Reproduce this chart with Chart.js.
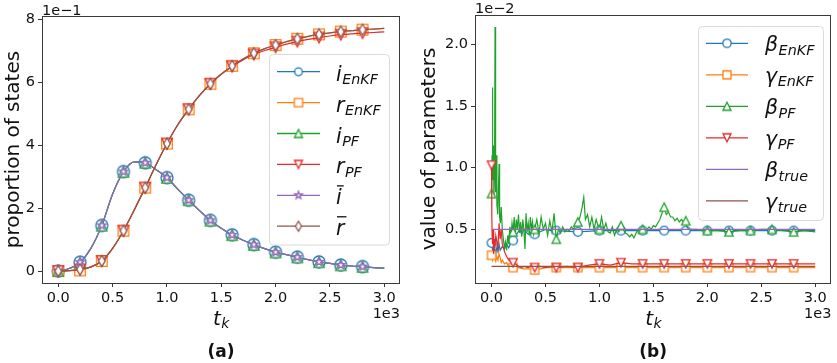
<!DOCTYPE html>
<html>
<head>
<meta charset="utf-8">
<script src="https://cdn.jsdelivr.net/npm/chart.js@4.4.1/dist/chart.umd.min.js"></script>
<style>
  html, body { margin: 0; padding: 0; background: #fff; }
  #wrap { position: relative; width: 837px; height: 363px; }
  canvas { position: absolute; top: 0; }
  #chartA { left: 0; }
  #chartB { left: 418px; }
</style>
</head>
<body>
<div id="wrap">
  <canvas id="chartA" width="418" height="363"></canvas>
  <canvas id="chartB" width="419" height="363"></canvas>
</div>
<script>
// ---- (a) proportion of states, values in units of 1e-1 ----
const tStates = [0, 100, 200, 300, 400, 500, 600, 700, 800, 900, 1000, 1100, 1200, 1300, 1400, 1500,
                 1600, 1700, 1800, 1900, 2000, 2100, 2200, 2300, 2400, 2500, 2600, 2700, 2800, 2900, 3000];
const iEnKF = [0.00, 0.08, 0.28, 0.72, 1.45, 2.45, 3.16, 3.47, 3.44, 3.22, 2.97, 2.60, 2.25, 1.92, 1.61, 1.36,
               1.15, 0.98, 0.84, 0.71, 0.60, 0.52, 0.44, 0.36, 0.29, 0.24, 0.19, 0.16, 0.14, 0.11, 0.09];
const rEnKF = [0.00, 0.01, 0.02, 0.13, 0.32, 0.72, 1.28, 1.95, 2.65, 3.38, 4.05, 4.65, 5.14, 5.58, 5.95, 6.26,
               6.52, 6.74, 6.92, 7.07, 7.18, 7.29, 7.38, 7.46, 7.52, 7.57, 7.61, 7.64, 7.67, 7.69, 7.71];
const iPF = [0.00, 0.08, 0.26, 0.72, 1.44, 2.45, 3.15, 3.47, 3.44, 3.22, 2.96, 2.60, 2.25, 1.92, 1.60, 1.36,
             1.14, 0.98, 0.83, 0.71, 0.59, 0.52, 0.43, 0.36, 0.28, 0.24, 0.18, 0.16, 0.13, 0.11, 0.09];
const rPF = [0.00, 0.01, 0.05, 0.13, 0.32, 0.72, 1.28, 1.95, 2.65, 3.38, 4.05, 4.65, 5.14, 5.58, 5.95, 6.25,
             6.50, 6.71, 6.88, 7.01, 7.11, 7.21, 7.29, 7.36, 7.42, 7.47, 7.51, 7.54, 7.56, 7.58, 7.60];
const iBar = [0.00, 0.08, 0.28, 0.72, 1.45, 2.45, 3.16, 3.47, 3.44, 3.22, 2.97, 2.60, 2.25, 1.92, 1.61, 1.36,
              1.15, 0.98, 0.84, 0.71, 0.60, 0.52, 0.44, 0.36, 0.29, 0.24, 0.19, 0.16, 0.14, 0.11, 0.09];
const rBar = [0.00, 0.01, 0.05, 0.13, 0.32, 0.72, 1.28, 1.95, 2.65, 3.38, 4.05, 4.65, 5.14, 5.58, 5.95, 6.26,
              6.52, 6.74, 6.92, 7.07, 7.18, 7.29, 7.38, 7.46, 7.52, 7.57, 7.61, 7.64, 7.67, 7.69, 7.71];

// ---- (b) value of parameters, values in units of 1e-2 ----
const tBetaEnKF = [0, 10, 20, 30, 40, 50, 60, 70, 80,
                   100, 120, 140, 160, 180, 200, 220, 240, 260, 280, 300, 320, 340, 360, 380, 400,
                   450, 500, 550, 600,
                   800, 1000, 1200, 1400, 1600, 1800, 2000, 2200, 2400, 2600, 2800, 3000];
const betaEnKF = [0.39, 0.33, 0.28, 0.35, 0.30, 0.36, 0.32, 0.38, 0.33,
                  0.36, 0.34, 0.38, 0.35, 0.40, 0.41, 0.45, 0.47, 0.50, 0.46, 0.50, 0.48, 0.46, 0.47, 0.48, 0.46,
                  0.48, 0.50, 0.49, 0.49,
                  0.48, 0.49, 0.49, 0.49, 0.49, 0.49, 0.49, 0.49, 0.49, 0.49, 0.49, 0.49];

const tGammaEnKF = [0, 10, 20, 30, 40, 50, 60, 70, 80, 90, 100,
                    120, 140, 160, 180, 200,
                    250, 300, 350, 400, 450, 500, 600,
                    800, 1000, 1200, 1400, 1600, 1800, 2000, 2200, 2400, 2600, 2800, 3000];
const gammaEnKF = [0.29, 0.25, 0.30, 0.27, 0.24, 0.28, 0.25, 0.30, 0.27, 0.23, 0.25,
                   0.22, 0.23, 0.20, 0.21, 0.19,
                   0.19, 0.18, 0.18, 0.17, 0.18, 0.19, 0.19,
                   0.19, 0.19, 0.19, 0.19, 0.19, 0.19, 0.19, 0.19, 0.19, 0.19, 0.19, 0.19];

const tBetaPF = [0, 5, 9, 12, 18, 22, 28, 33, 38, 45, 50, 58, 65, 70, 75, 82, 90,
                 100, 110, 120, 130, 140, 150, 160, 170, 180, 190,
                 200, 210, 220, 230, 240, 250, 260, 270, 280, 290,
                 300, 310, 320, 330, 340, 350, 360, 370, 380, 390,
                 400, 420, 440, 460, 480, 500, 520, 540, 560, 580,
                 600, 620, 640, 660, 680, 700, 720, 740, 760, 780,
                 800, 820, 840, 855, 870, 890, 910, 930, 950, 970, 990,
                 1000, 1020, 1040, 1060, 1080, 1100, 1120, 1140, 1160, 1180,
                 1200, 1220, 1240, 1260, 1280, 1300, 1320, 1340, 1360, 1380,
                 1400, 1420, 1440, 1460, 1480, 1500, 1520, 1540, 1560, 1580,
                 1600, 1620, 1640, 1660, 1680, 1700, 1720, 1740, 1760, 1780,
                 1800, 1810, 1830, 1860, 1900, 1950,
                 2000, 2100, 2200, 2300, 2400, 2500, 2600, 2700, 2800, 2900, 3000];
const betaPF = [0.79, 1.10, 1.65, 0.90, 1.18, 0.75, 0.95, 2.14, 0.80, 1.10, 0.70, 0.62, 0.85, 1.03, 0.60, 0.55, 0.68,
                0.50, 0.42, 0.35, 0.40, 0.33, 0.45, 0.38, 0.52, 0.44, 0.55,
                0.48, 0.60, 0.45, 0.58, 0.50, 0.62, 0.47, 0.56, 0.44, 0.58,
                0.50, 0.34, 0.63, 0.48, 0.55, 0.45, 0.60, 0.50, 0.56, 0.46,
                0.50, 0.58, 0.47, 0.60, 0.50, 0.55, 0.45, 0.57, 0.48, 0.63,
                0.42, 0.50, 0.47, 0.52, 0.48, 0.50, 0.49, 0.52, 0.50, 0.55,
                0.56, 0.60, 0.68, 0.76, 0.58, 0.62, 0.52, 0.60, 0.50, 0.58, 0.52,
                0.50, 0.60, 0.50, 0.55, 0.48, 0.47, 0.52, 0.45, 0.50, 0.48,
                0.53, 0.50, 0.47, 0.46, 0.44, 0.46, 0.43, 0.47, 0.50, 0.48,
                0.50, 0.49, 0.50, 0.52, 0.50, 0.53, 0.52, 0.55, 0.58, 0.63,
                0.68, 0.62, 0.64, 0.60, 0.60, 0.57, 0.59, 0.56, 0.58, 0.56,
                0.57, 0.52, 0.50, 0.50, 0.50, 0.49,
                0.49, 0.49, 0.48, 0.49, 0.49, 0.50, 0.50, 0.49, 0.48, 0.49, 0.48];

const tGammaPF = [0, 3, 6, 10, 15, 20, 25, 30,
                  40, 50, 60, 70, 80, 90, 100,
                  120, 140, 160, 180, 200,
                  220, 250, 280, 300, 340, 380, 400,
                  450, 500, 550, 600,
                  700, 800, 900, 1000, 1100, 1200, 1300, 1400,
                  1600, 1800, 2000, 2200, 2400, 2600, 2800, 3000];
const gammaPF = [1.02, 0.60, 0.45, 0.38, 0.50, 0.30, 0.42, 0.35,
                 0.45, 0.40, 0.35, 0.55, 0.42, 0.50, 0.38,
                 0.32, 0.28, 0.25, 0.24, 0.23,
                 0.22, 0.20, 0.19, 0.20, 0.19, 0.21, 0.19,
                 0.20, 0.19, 0.20, 0.19,
                 0.20, 0.19, 0.21, 0.22, 0.21, 0.23, 0.22, 0.22,
                 0.22, 0.22, 0.22, 0.22, 0.22, 0.22, 0.22, 0.22];

const tTrue = [0, 3000];
const betaTrue = [0.5, 0.5];
const gammaTrue = [0.2, 0.2];

// tick labels
const timeTicks = [0, 500, 1000, 1500, 2000, 2500, 3000];
const stateTicks = [0, 2, 4, 6, 8];
const paramTicks = [0.5, 1.0, 1.5, 2.0];

const FONT = '"DejaVu Sans", sans-serif';
const COL = {
  blue: '#1f77b4', orange: '#ff7f0e', green: '#1fa22a',
  red: '#e8282a', purple: '#9467bd', brown: '#8c564b'
};

function markerCanvas(kind, r, color) {
  const lw = 1.3;
  const s = 2 * Math.ceil(r + lw + 1);
  const c = document.createElement('canvas');
  c.width = c.height = s;
  const g = c.getContext('2d');
  g.translate(s / 2, s / 2);
  g.beginPath();
  if (kind === 'circle') {
    g.arc(0, 0, r, 0, Math.PI * 2);
  } else if (kind === 'square') {
    g.rect(-r, -r, 2 * r, 2 * r);
  } else if (kind === 'triUp') {
    g.moveTo(0, -r); g.lineTo(-r, r); g.lineTo(r, r); g.closePath();
  } else if (kind === 'triDown') {
    g.moveTo(0, r); g.lineTo(-r, -r); g.lineTo(r, -r); g.closePath();
  } else if (kind === 'star') {
    for (let k = 0; k < 10; k++) {
      const rr = k % 2 ? r * 0.382 : r;
      const ang = -Math.PI / 2 + k * Math.PI / 5;
      g.lineTo(rr * Math.cos(ang), rr * Math.sin(ang));
    }
    g.closePath();
  } else if (kind === 'diamond') {
    g.moveTo(0, -r); g.lineTo(r * 0.6, 0); g.lineTo(0, r); g.lineTo(-r * 0.6, 0); g.closePath();
  }
  g.fillStyle = '#fff';
  g.fill();
  g.lineWidth = lw;
  g.strokeStyle = color;
  g.stroke();
  return c;
}

function isMark(t) {
  return t % 200 === 0 && t <= 2800;
}

function series(label, ts, vs, color, marker, idx, smooth) {
  const ds = {
    label: label,
    data: ts.map((t, k) => ({ x: t, y: vs[k] })),
    borderColor: color,
    borderWidth: 1.2,
    pointRadius: 0,
    pointHoverRadius: 0,
    fill: false,
    order: 10 - idx
  };
  if (smooth) ds.cubicInterpolationMode = 'monotone';
  if (marker) {
    ds.pointStyle = markerCanvas(marker.kind, marker.r, color);
    ds.pointRadius = c => (c.raw && isMark(c.raw.x)) ? marker.r : 0;
  }
  return ds;
}

function drawMath(ctx, x, y, item, size) {
  ctx.fillStyle = '#111';
  ctx.textAlign = 'left';
  ctx.textBaseline = 'alphabetic';
  ctx.font = 'italic ' + size + 'px ' + FONT;
  ctx.fillText(item.main, x, y);
  const w = ctx.measureText(item.main).width;
  if (item.bar) {
    ctx.fillRect(x + 1, y - size * 0.93, w + 1, 1.3);
  }
  if (item.sub) {
    ctx.font = 'italic ' + (size * 0.7) + 'px ' + FONT;
    ctx.fillText(item.sub, x + w + 0.5, y + size * 0.16);
  }
}

function overlay(cfg) {
  return {
    id: 'overlay',
    afterDraw(chart) {
      const ctx = chart.ctx;
      const a = chart.chartArea;
      ctx.save();
      // frame
      ctx.strokeStyle = '#3a3a3a';
      ctx.lineWidth = 1;
      ctx.strokeRect(Math.round(a.left) + 0.5, Math.round(a.top) + 0.5,
                     Math.round(a.right - a.left) - 1, Math.round(a.bottom - a.top));
      const cx = (a.left + a.right) / 2;
      // offset texts
      ctx.fillStyle = '#111';
      ctx.font = '14.5px ' + FONT;
      ctx.textAlign = 'left';
      ctx.textBaseline = 'alphabetic';
      ctx.fillText(cfg.yOffset, a.left, cfg.yOffsetBase);
      ctx.textAlign = 'right';
      ctx.fillText('1e3', a.right, 318);
      // x label t_k
      ctx.font = 'italic 20px ' + FONT;
      const tw = ctx.measureText('t').width;
      ctx.font = 'italic 14px ' + FONT;
      const kw = ctx.measureText('k').width;
      drawMath(ctx, cx - (tw + kw) / 2, 325, { main: 't', sub: 'k' }, 20);
      // panel tag
      ctx.font = 'bold 17px ' + FONT;
      ctx.textAlign = 'center';
      ctx.fillText(cfg.tag, cx, 357);
      // y label
      ctx.save();
      ctx.translate(cfg.yLabelX, (a.top + a.bottom) / 2);
      ctx.rotate(-Math.PI / 2);
      ctx.font = '20px ' + FONT;
      ctx.textAlign = 'center';
      ctx.textBaseline = 'middle';
      ctx.fillText(cfg.yLabel, 0, 0);
      ctx.restore();
      // legend
      const L = cfg.legend;
      ctx.beginPath();
      ctx.roundRect(L.box[0], L.box[1], L.box[2], L.box[3], 4);
      ctx.fillStyle = 'rgba(255,255,255,0.85)';
      ctx.fill();
      ctx.strokeStyle = '#dadada';
      ctx.lineWidth = 1;
      ctx.stroke();
      L.items.forEach((it, k) => {
        const y = L.y0 + k * L.dy;
        ctx.strokeStyle = it.color;
        ctx.lineWidth = 1.3;
        ctx.beginPath();
        ctx.moveTo(L.x1, y);
        ctx.lineTo(L.x2, y);
        ctx.stroke();
        if (it.marker) {
          const m = markerCanvas(it.marker.kind, it.marker.r, it.color);
          ctx.drawImage(m, (L.x1 + L.x2) / 2 - m.width / 2, y - m.height / 2);
        }
        drawMath(ctx, L.tx, y + L.base, it, L.size);
      });
      ctx.restore();
    }
  };
}

function makeChart(id, datasets, opt) {
  const tickFont = { family: 'DejaVu Sans', size: 14.5 };
  return new Chart(document.getElementById(id), {
    type: 'line',
    data: { datasets: datasets },
    options: {
      responsive: false,
      animation: false,
      events: [],
      layout: { padding: opt.padding },
      plugins: { legend: { display: false }, tooltip: { enabled: false } },
      scales: {
        x: {
          type: 'linear',
          min: opt.xMin, max: opt.xMax,
          afterBuildTicks: s => { s.ticks = timeTicks.map(v => ({ value: v })); },
          afterFit: s => { s.height = 80; },
          border: { display: false },
          grid: { drawOnChartArea: false, tickLength: 4, color: '#333', tickWidth: 1 },
          ticks: { font: tickFont, color: '#111', padding: 3, maxRotation: 0, autoSkip: false,
                   callback: v => (v / 1000).toFixed(1) }
        },
        y: {
          type: 'linear',
          min: opt.yMin, max: opt.yMax,
          afterBuildTicks: s => { s.ticks = opt.yTicks.map(v => ({ value: v })); },
          afterFit: s => { s.width = opt.yWidth; },
          border: { display: false },
          grid: { drawOnChartArea: false, tickLength: 4, color: '#333', tickWidth: 1 },
          ticks: { font: tickFont, color: '#111', padding: 3, autoSkip: false,
                   callback: opt.yFormat }
        }
      }
    },
    plugins: [overlay(opt.overlay)]
  });
}

// ---- chart (a) ----
const mA = {
  circle: { kind: 'circle', r: 6 }, square: { kind: 'square', r: 5.3 },
  up: { kind: 'triUp', r: 5.2 }, down: { kind: 'triDown', r: 5.2 },
  star: { kind: 'star', r: 4.6 }, diamond: { kind: 'diamond', r: 5.5 }
};
makeChart('chartA', [
  series('i_EnKF', tStates, iEnKF, COL.blue, mA.circle, 0, true),
  series('r_EnKF', tStates, rEnKF, COL.orange, mA.square, 1, true),
  series('i_PF', tStates, iPF, COL.green, mA.up, 2, true),
  series('r_PF', tStates, rPF, COL.red, mA.down, 3, true),
  series('i_bar', tStates, iBar, COL.purple, mA.star, 4, true),
  series('r_bar', tStates, rBar, COL.brown, mA.diamond, 5, true)
], {
  padding: { top: 16, right: 18, left: 0, bottom: 0 },
  xMin: -150, xMax: 3145, yMin: -0.381, yMax: 8.105, yWidth: 42,
  yTicks: stateTicks, yFormat: v => v.toFixed(0),
  overlay: {
    yOffset: '1e\u22121', yOffsetBase: 15, tag: '(a)', yLabel: 'proportion of states', yLabelX: 13.5,
    legend: {
      box: [269.5, 54.5, 120, 190.5], y0: 71.7, dy: 30.9, x1: 277, x2: 320, tx: 336, base: 9, size: 20.5,
      items: [
        { color: COL.blue, marker: { kind: 'circle', r: 3.8 }, main: 'i', sub: 'EnKF' },
        { color: COL.orange, marker: { kind: 'square', r: 4.2 }, main: 'r', sub: 'EnKF' },
        { color: COL.green, marker: { kind: 'triUp', r: 4 }, main: 'i', sub: 'PF' },
        { color: COL.red, marker: { kind: 'triDown', r: 4 }, main: 'r', sub: 'PF' },
        { color: COL.purple, marker: { kind: 'star', r: 4 }, main: 'i', bar: true },
        { color: COL.brown, marker: { kind: 'diamond', r: 5 }, main: 'r', bar: true }
      ]
    }
  }
});

// ---- chart (b) ----
const mB = {
  circle: { kind: 'circle', r: 4.4 }, square: { kind: 'square', r: 4.1 },
  up: { kind: 'triUp', r: 4.2 }, down: { kind: 'triDown', r: 4.2 }
};
makeChart('chartB', [
  series('beta_EnKF', tBetaEnKF, betaEnKF, COL.blue, mB.circle, 0, false),
  series('gamma_EnKF', tGammaEnKF, gammaEnKF, COL.orange, mB.square, 1, false),
  series('beta_PF', tBetaPF, betaPF, COL.green, mB.up, 2, false),
  series('gamma_PF', tGammaPF, gammaPF, COL.red, mB.down, 3, false),
  series('beta_true', tTrue, betaTrue, COL.purple, null, 4, false),
  series('gamma_true', tTrue, gammaTrue, COL.brown, null, 5, false)
], {
  padding: { top: 15, right: 4, left: 0, bottom: 0 },
  xMin: -153, xMax: 3150, yMin: 0.065, yMax: 2.238, yWidth: 57,
  yTicks: paramTicks, yFormat: v => v.toFixed(1),
  overlay: {
    yOffset: '1e\u22122', yOffsetBase: 13, tag: '(b)', yLabel: 'value of parameters', yLabelX: 12,
    legend: {
      box: [280.5, 26.5, 125, 194], y0: 43.3, dy: 31.5, x1: 288, x2: 330, tx: 347, base: 8, size: 20.5,
      items: [
        { color: COL.blue, marker: { kind: 'circle', r: 4.2 }, main: '\u03b2', sub: 'EnKF' },
        { color: COL.orange, marker: { kind: 'square', r: 4 }, main: '\u03b3', sub: 'EnKF' },
        { color: COL.green, marker: { kind: 'triUp', r: 4 }, main: '\u03b2', sub: 'PF' },
        { color: COL.red, marker: { kind: 'triDown', r: 4 }, main: '\u03b3', sub: 'PF' },
        { color: COL.purple, marker: null, main: '\u03b2', sub: 'true' },
        { color: COL.brown, marker: null, main: '\u03b3', sub: 'true' }
      ]
    }
  }
});
</script>
</body>
</html>
